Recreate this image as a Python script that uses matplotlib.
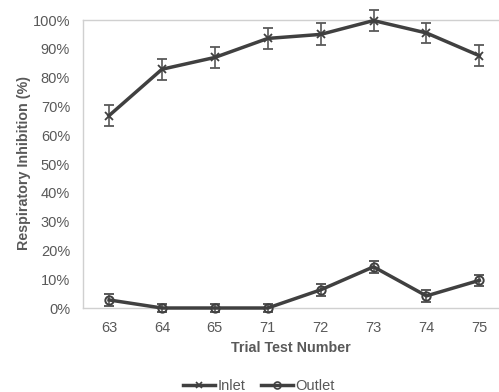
import matplotlib.pyplot as plt
from matplotlib.lines import Line2D
import numpy as np

plt.rcParams['font.family'] = ['Liberation Sans', 'DejaVu Sans']

trials = ['63', '64', '65', '71', '72', '73', '74', '75']
inlet = [66.8, 82.9, 87.0, 93.6, 95.0, 99.8, 95.5, 87.6]
inlet_err = [3.6, 3.7, 3.5, 3.7, 3.8, 3.6, 3.6, 3.7]
outlet = [2.8, 0.0, 0.0, 0.0, 6.3, 14.3, 4.2, 9.6]
outlet_err = [2.0, 1.5, 1.5, 1.5, 2.0, 2.0, 2.0, 2.0]

line_col = '#404040'
err_col = '#595959'
text_col = '#595959'

fig = plt.figure(figsize=(4.99, 3.92), dpi=100)
ax = fig.add_axes([82.6 / 499, 1 - 308 / 392, (499 - 82.6) / 499, 288 / 392])

x = np.arange(len(trials))
ax.errorbar(x, inlet, yerr=inlet_err, color=line_col, lw=2.5, marker='x', ms=5.5, mew=1.3,
            ecolor=err_col, elinewidth=1.2, capsize=3.5, capthick=1.2, clip_on=False, zorder=3)
ax.errorbar(x, outlet, yerr=outlet_err, color=line_col, lw=2.5, marker='o', ms=6, mew=1.4, mfc='none',
            ecolor=err_col, elinewidth=1.2, capsize=3.5, capthick=1.2, clip_on=False, zorder=3)

ax.set_xlim(-0.5, (499 - 82.6) / 52.9 - 0.5)
ax.set_ylim(0, 100)
ax.set_xticks(x)
ax.set_xticklabels(trials)
ax.set_yticks(np.arange(0, 101, 10))
ax.set_yticklabels(['%d%%' % v for v in range(0, 101, 10)])
ax.tick_params(length=0, colors=text_col, labelsize=10.5)
ax.tick_params(axis='x', pad=9)
ax.tick_params(axis='y', pad=9)

for s in ['left', 'bottom', 'top']:
    ax.spines[s].set_color('#d0d0d0')
    ax.spines[s].set_linewidth(1.0)
ax.spines['right'].set_visible(False)

ax.set_xlabel('Trial Test Number', fontsize=10.3, fontweight='bold', color=text_col, labelpad=5)
ax.set_ylabel('Respiratory Inhibition (%)', fontsize=10.3, fontweight='bold', color=text_col)
ax.yaxis.set_label_coords(-52 / 416.4, (308 - 163) / 288)

handles = [Line2D([], [], color=line_col, lw=2.5, marker='x', ms=4.5, mew=1.2),
           Line2D([], [], color=line_col, lw=2.5, marker='o', ms=5, mew=1.2, mfc='none')]
leg = fig.legend(handles, ['Inlet', 'Outlet'], loc='center', bbox_to_anchor=(259 / 499, 1 - 386 / 392),
                 ncol=2, frameon=False, fontsize=10.5, handlelength=2.2, columnspacing=1.0, handletextpad=0.2)
for t in leg.get_texts():
    t.set_color(text_col)

fig.savefig('out.png', dpi=100)
